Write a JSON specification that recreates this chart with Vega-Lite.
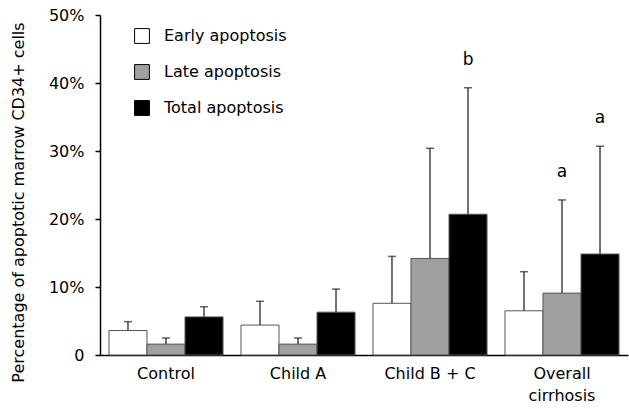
{
  "$schema": "https://vega.github.io/schema/vega-lite/v6.json",
  "autosize": {"type": "none"},
  "padding": {"left": 100, "top": 15, "right": 1, "bottom": 54},
  "width": 528,
  "height": 340,
  "background": "white",
  "config": {
    "font": "DejaVu Sans",
    "view": {"stroke": null},
    "axis": {"labelFont": "DejaVu Sans", "titleFont": "DejaVu Sans", "labelColor": "black", "titleColor": "black", "grid": false}
  },
  "data": {
    "values": [
      {"group": "Control", "series": "Early apoptosis", "value": 3.6, "err": 4.9, "sig": ""},
      {"group": "Control", "series": "Late apoptosis", "value": 1.6, "err": 2.5, "sig": ""},
      {"group": "Control", "series": "Total apoptosis", "value": 5.6, "err": 7.1, "sig": ""},
      {"group": "Child A", "series": "Early apoptosis", "value": 4.4, "err": 7.9, "sig": ""},
      {"group": "Child A", "series": "Late apoptosis", "value": 1.6, "err": 2.5, "sig": ""},
      {"group": "Child A", "series": "Total apoptosis", "value": 6.3, "err": 9.7, "sig": ""},
      {"group": "Child B + C", "series": "Early apoptosis", "value": 7.6, "err": 14.5, "sig": ""},
      {"group": "Child B + C", "series": "Late apoptosis", "value": 14.2, "err": 30.4, "sig": ""},
      {"group": "Child B + C", "series": "Total apoptosis", "value": 20.7, "err": 39.3, "sig": "b"},
      {"group": "Overall cirrhosis", "series": "Early apoptosis", "value": 6.5, "err": 12.25, "sig": ""},
      {"group": "Overall cirrhosis", "series": "Late apoptosis", "value": 9.1, "err": 22.8, "sig": "a"},
      {"group": "Overall cirrhosis", "series": "Total apoptosis", "value": 14.85, "err": 30.7, "sig": "a"}
    ]
  },
  "encoding": {
    "x": {
      "field": "group", "type": "nominal", "sort": null,
      "scale": {"paddingInner": 0.136, "paddingOuter": 0.068},
      "axis": {
        "title": null, "labelAngle": 0, "ticks": false, "domainColor": "black", "domainWidth": 1.5,
        "labelFontSize": 16, "labelPadding": 10, "labelLineHeight": 22,
        "labelExpr": "datum.value == 'Overall cirrhosis' ? ['Overall', 'cirrhosis'] : datum.value"
      }
    },
    "xOffset": {"field": "series", "type": "nominal", "sort": null, "scale": {"paddingInner": 0, "paddingOuter": 0}}
  },
  "layer": [
    {
      "mark": {"type": "bar", "stroke": "#555555", "strokeWidth": 1},
      "encoding": {
        "y": {
          "field": "value", "type": "quantitative",
          "scale": {"domain": [0, 50], "nice": false},
          "axis": {
            "title": "Percentage of apoptotic marrow CD34+ cells",
            "titleFontSize": 16, "titleFontWeight": "normal", "titleX": -82, "titleY": 187, "titleBaseline": "middle", "titleAlign": "center", "titleAngle": -90,
            "values": [0, 10, 20, 30, 40, 50],
            "labelExpr": "datum.value == 0 ? '0' : datum.value + '%'",
            "labelFontSize": 16, "labelPadding": 11,
            "tickColor": "black", "tickSize": 5, "tickWidth": 1.5,
            "domainColor": "black", "domainWidth": 1.5
          }
        },
        "fill": {
          "field": "series", "type": "nominal",
          "scale": {"domain": ["Early apoptosis", "Late apoptosis", "Total apoptosis"], "range": ["#ffffff", "#a0a0a0", "#000000"]},
          "legend": {
            "title": null, "orient": "none", "legendX": 34, "legendY": 13,
            "symbolType": "square", "symbolSize": 220, "symbolStrokeColor": "black", "symbolStrokeWidth": 1,
            "labelFontSize": 16, "labelColor": "black", "rowPadding": 16, "labelOffset": 14
          }
        }
      }
    },
    {
      "mark": {"type": "rule", "color": "#444444", "strokeWidth": 1.5},
      "encoding": {
        "y": {"field": "value", "type": "quantitative"},
        "y2": {"field": "err"}
      }
    },
    {
      "mark": {"type": "tick", "color": "#222222", "orient": "horizontal", "size": 8, "thickness": 1.5},
      "encoding": {
        "y": {"field": "err", "type": "quantitative"}
      }
    },
    {
      "mark": {"type": "text", "fontSize": 17, "dy": -28, "color": "black", "baseline": "middle"},
      "encoding": {
        "y": {"field": "err", "type": "quantitative"},
        "text": {"field": "sig"}
      }
    }
  ]
}
